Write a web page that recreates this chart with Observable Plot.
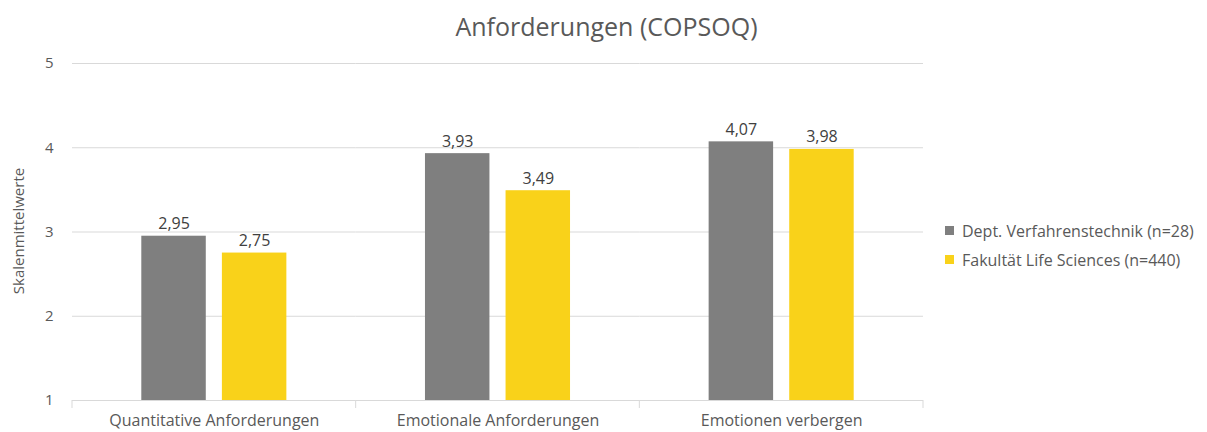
<!DOCTYPE html>
<html>
<head>
<meta charset="utf-8">
<script src="https://cdn.jsdelivr.net/npm/d3@7"></script>
<script src="https://cdn.jsdelivr.net/npm/@observablehq/plot@0.6"></script>
<style>
  html, body { margin: 0; padding: 0; background: #fff; }
  body { width: 1207px; height: 432px; position: relative; overflow: hidden; font-family: "Open Sans", sans-serif; color: #595959; }
  #title { position: absolute; left: 0; top: 9px; width: 1213px; text-align: center; font-size: 25px; line-height: 34px; color: #595959; }
  #chart { position: absolute; left: 0; top: 45px; }
  #ylabel { position: absolute; left: 18px; top: 231px; transform: translate(-50%, -50%) rotate(-90deg); font-size: 15px; white-space: nowrap; color: #595959; }
  #legend { position: absolute; left: 945px; top: 216px; font-size: 16px; color: #595959; }
  .item { display: flex; align-items: center; height: 29px; white-space: nowrap; }
  .sw { width: 9px; height: 9px; margin-right: 8px; }
</style>
</head>
<body>
<div id="title">Anforderungen (COPSOQ)</div>
<div id="chart"></div>
<div id="ylabel">Skalenmittelwerte</div>
<div id="legend"></div>
<script>
const categories = ["Quantitative Anforderungen", "Emotionale Anforderungen", "Emotionen verbergen"];
const seriesNames = ["Dept. Verfahrenstechnik (n=28)", "Fakultät Life Sciences (n=440)"];
const deptValues = [2.95, 3.93, 4.07];
const fakValues = [2.75, 3.49, 3.98];
const seriesColors = ["#7f7f7f", "#f9d21a"];
const yTicks = [1, 2, 3, 4, 5];

const data = [];
categories.forEach((c, i) => {
  data.push({category: c, series: seriesNames[0], value: deptValues[i]});
  data.push({category: c, series: seriesNames[1], value: fakValues[i]});
});
const fmt = v => v.toFixed(2).replace(".", ",");

const plot = Plot.plot({
  width: 1207,
  height: 387,
  marginLeft: 72,
  marginRight: 284,
  marginTop: 18,
  marginBottom: 32,
  style: {fontFamily: "Open Sans, sans-serif", fontSize: "16px", color: "#595959", background: "transparent"},
  fx: {domain: categories, paddingInner: 0, paddingOuter: 0, label: null, round: false},
  x: {domain: seriesNames, paddingInner: 0.2, paddingOuter: 0.86, axis: null, round: false},
  y: {domain: [1, 5], label: null},
  color: {domain: seriesNames, range: seriesColors},
  marks: [
    Plot.gridY(yTicks.slice(1), {stroke: "#d9d9d9", strokeOpacity: 1, strokeWidth: 1}),
    Plot.axisY(yTicks, {tickSize: 0, tickPadding: 19, fontSize: 15, fill: "#595959", tickFormat: d => String(d), label: null}),
    Plot.barY(data, {fx: "category", x: "series", y1: 1, y2: "value", fill: "series"}),
    Plot.text(data, {fx: "category", x: "series", y: "value", text: d => fmt(d.value), lineAnchor: "bottom", dy: -7, fontSize: 16, fill: "#404040"}),
    Plot.ruleY([1], {stroke: "#d9d9d9", strokeWidth: 1}),
    Plot.axisFx({anchor: "bottom", tickSize: 0, tickPadding: 14, fontSize: 16, fill: "#595959", label: null})
  ]
});

// boundary tick marks on the category axis, positioned via the fx scale
const fxScale = plot.scale("fx");
const yScale = plot.scale("y");
const svg = d3.select(plot.tagName === "svg" ? plot : plot.querySelector("svg"));
const y0 = yScale.apply(1);
const edges = categories.map(c => fxScale.apply(c));
edges.push(fxScale.apply(categories[categories.length - 1]) + fxScale.bandwidth);
const g = svg.append("g").attr("stroke", "#d9d9d9").attr("stroke-width", 1);
edges.forEach(x => {
  g.append("line").attr("x1", x).attr("x2", x).attr("y1", y0).attr("y2", y0 + 8);
});

document.getElementById("chart").appendChild(plot);

const legend = document.getElementById("legend");
seriesNames.forEach((s, i) => {
  const item = document.createElement("div");
  item.className = "item";
  const sw = document.createElement("span");
  sw.className = "sw";
  sw.style.background = seriesColors[i];
  const t = document.createElement("span");
  t.textContent = s;
  item.appendChild(sw);
  item.appendChild(t);
  legend.appendChild(item);
});
</script>
</body>
</html>
